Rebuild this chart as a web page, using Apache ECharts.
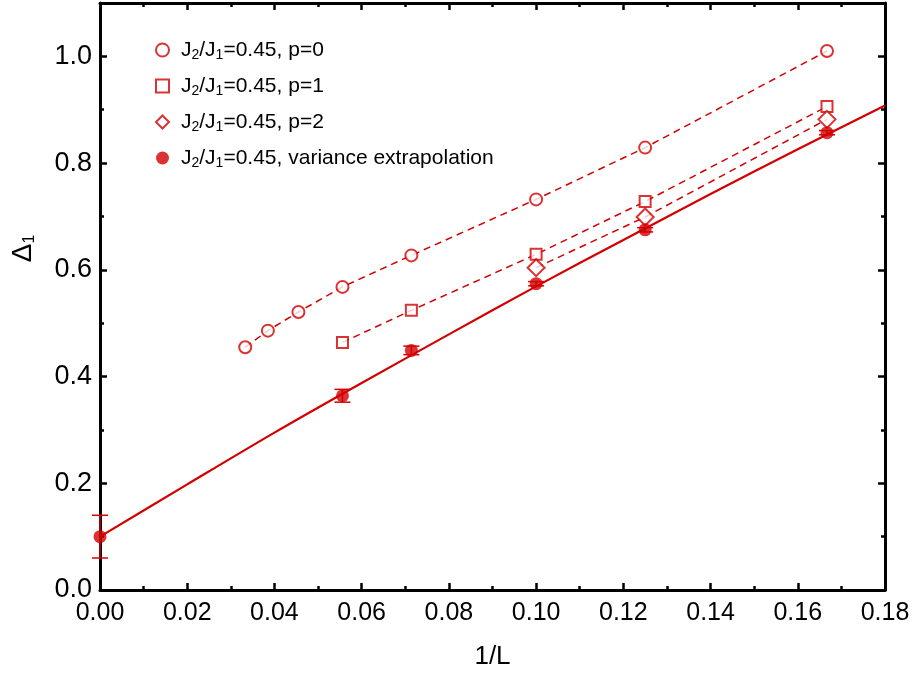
<!DOCTYPE html>
<html><head><meta charset="utf-8">
<script src="https://cdn.jsdelivr.net/npm/echarts@6/dist/echarts.min.js"></script>
<style>html,body{margin:0;padding:0;background:#fff}#c{width:919px;height:679px}</style>
</head><body><div id="c"></div>
<script>
// ---- data ----
const p0X = [0.0333, 0.0385, 0.0455, 0.0556, 0.0714, 0.1, 0.125, 0.1667];
const p0Y = [0.455, 0.486, 0.521, 0.568, 0.627, 0.732, 0.829, 1.010];
const p1X = [0.0556, 0.0714, 0.1, 0.125, 0.1667];
const p1Y = [0.464, 0.524, 0.629, 0.728, 0.906];
const p2X = [0.1, 0.125, 0.1667];
const p2Y = [0.604, 0.699, 0.882];
const varX = [0, 0.0556, 0.0714, 0.1, 0.125, 0.1667];
const varY = [0.100, 0.364, 0.449, 0.574, 0.675, 0.857];
const varErr = [0.040, 0.012, 0.008, 0.004, 0.004, 0.004];
const fitX = [0, 0.02, 0.04, 0.06, 0.08, 0.10, 0.12, 0.14, 0.16, 0.18];
const fitY = [0.100, 0.198, 0.295, 0.388, 0.479, 0.569, 0.656, 0.742, 0.826, 0.908];
const names = ['J2/J1=0.45, p=0', 'J2/J1=0.45, p=1', 'J2/J1=0.45, p=2', 'J2/J1=0.45, variance extrapolation'];
const xTicks = ['0.00','0.02','0.04','0.06','0.08','0.10','0.12','0.14','0.16','0.18'];

const RED = '#d20000';
const zip = (a, b) => a.map((v, i) => [v, b[i]]);
const chart = echarts.init(document.getElementById('c'));

function errBars(xs, ys, es) {
  return {
    type: 'custom', name: 'err', silent: true, z: 4,
    data: xs.map((x, i) => [x, ys[i], es[i]]),
    renderItem: function (params, api) {
      const x = api.value(0), y = api.value(1), e = api.value(2);
      const hi = api.coord([x, y + e]), lo = api.coord([x, y - e]);
      const w = 8;
      const st = { stroke: RED, lineWidth: 1.5 };
      return { type: 'group', children: [
        { type: 'line', shape: { x1: hi[0], y1: hi[1], x2: lo[0], y2: lo[1] }, style: st },
        { type: 'line', shape: { x1: hi[0] - w, y1: hi[1], x2: hi[0] + w, y2: hi[1] }, style: st },
        { type: 'line', shape: { x1: lo[0] - w, y1: lo[1], x2: lo[0] + w, y2: lo[1] }, style: st }
      ]};
    }
  };
}

const legendFmt = function (name) {
  const rest = name.replace('J2/J1', '');
  return '{f|J}{s|2}{n|/J}{s|1}{n|' + rest + '}';
};

const baseX = { type: 'value', min: 0, max: 0.18, interval: 0.02,
  axisLine: { show: true, onZero: false, lineStyle: { color: '#000', width: 3 } },
  axisTick: { show: true, inside: true, length: 7, lineStyle: { color: '#000', width: 2.5 } },
  minorTick: { show: true, splitNumber: 2, length: 4, lineStyle: { color: '#000', width: 2.5 } },
  splitLine: { show: false } };
const baseY = { type: 'value', min: 0, max: 1.1, interval: 0.2,
  axisLine: { show: true, onZero: false, lineStyle: { color: '#000', width: 3 } },
  axisTick: { show: true, inside: true, length: 7, lineStyle: { color: '#000', width: 2.5 } },
  minorTick: { show: true, splitNumber: 2, length: 4, lineStyle: { color: '#000', width: 2.5 } },
  splitLine: { show: false } };

const LF = 'Liberation Sans, sans-serif';

chart.setOption({
  animation: false,
  grid: { left: 100, right: 34, top: 3, bottom: 89, containLabel: false },
  xAxis: [
    Object.assign({}, baseX, { position: 'bottom',
      name: '1/L', nameLocation: 'middle', nameGap: 54,
      nameTextStyle: { fontSize: 26, color: '#000', fontFamily: LF },
      axisLabel: { margin: 11, fontSize: 25, color: '#000', fontFamily: LF,
        formatter: v => xTicks[Math.round(v / 0.02)] } }),
    Object.assign({}, baseX, { position: 'top', axisLabel: { show: false } })
  ],
  yAxis: [
    Object.assign({}, baseY, { position: 'left',
      name: '{a|Δ}{b|1}', nameLocation: 'middle', nameGap: 62, nameRotate: 90,
      nameTextStyle: { color: '#000', padding: [0, 0, 0, 96], rich: {
        a: { fontSize: 28, fontFamily: LF, color: '#000' },
        b: { fontSize: 16, fontFamily: LF, color: '#000', padding: [13, 0, 0, 0] } } },
      axisLabel: { margin: 8, fontSize: 27, color: '#000', fontFamily: LF, showMaxLabel: false,
        formatter: v => v.toFixed(1) } }),
    Object.assign({}, baseY, { position: 'right', axisLabel: { show: false } })
  ],
  legend: {
    left: 150, top: 33, orient: 'vertical', itemGap: 12, itemWidth: 13, itemHeight: 13,
    data: names,
    formatter: legendFmt,
    textStyle: { color: '#000', rich: {
      f: { fontSize: 21, fontFamily: LF, color: '#000', lineHeight: 24, padding: [0, 0, 0, 7] },
      n: { fontSize: 21, fontFamily: LF, color: '#000', lineHeight: 24 },
      s: { fontSize: 14, fontFamily: LF, color: '#000', padding: [10, 0, 0, 0], lineHeight: 24 } } }
  },
  series: [
    { type: 'line', name: 'l0', data: zip(p0X, p0Y), showSymbol: false, symbol: 'none', z: 2,
      lineStyle: { color: RED, width: 1.5, type: [7, 5] } },
    { type: 'line', name: 'l1', data: zip(p1X, p1Y), showSymbol: false, symbol: 'none', z: 2,
      lineStyle: { color: RED, width: 1.5, type: [7, 5] } },
    { type: 'line', name: 'l2', data: zip(p2X, p2Y), showSymbol: false, symbol: 'none', z: 2,
      lineStyle: { color: RED, width: 1.5, type: [7, 5] } },
    { type: 'line', name: 'fit', data: zip(fitX, fitY), showSymbol: false, symbol: 'none', smooth: 0.3, z: 2,
      lineStyle: { color: RED, width: 2.2 } },
    errBars(varX, varY, varErr),
    { type: 'scatter', name: names[0], data: zip(p0X, p0Y), symbol: 'emptyCircle', symbolSize: 12, z: 5,
      itemStyle: { color: RED, borderColor: RED, borderWidth: 2.2 } },
    { type: 'scatter', name: names[1], data: zip(p1X, p1Y), symbol: 'emptyRect', symbolSize: 11, z: 5,
      itemStyle: { color: RED, borderColor: RED, borderWidth: 2.2 } },
    { type: 'scatter', name: names[2], data: zip(p2X, p2Y), symbol: 'emptyDiamond', symbolSize: 17, z: 5,
      itemStyle: { color: RED, borderColor: RED, borderWidth: 2.2 } },
    { type: 'scatter', name: names[3], data: zip(varX, varY), symbol: 'circle', symbolSize: 13, z: 6,
      itemStyle: { color: RED } }
  ]
});
</script>
</body></html>
